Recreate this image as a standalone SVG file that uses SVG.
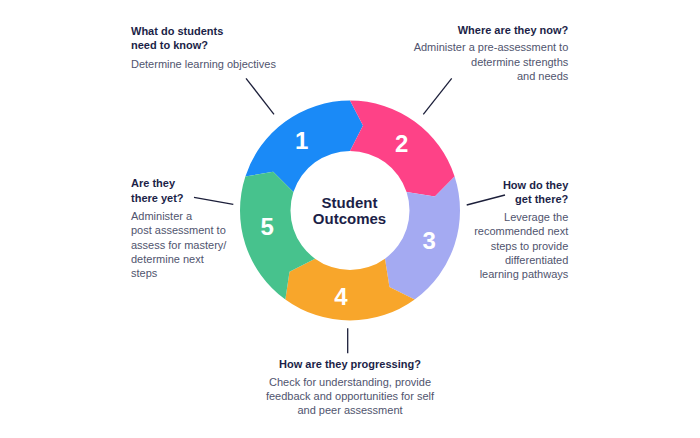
<svg xmlns="http://www.w3.org/2000/svg" width="700" height="438" viewBox="0 0 700 438">
<style>
.t{font-family:"Liberation Sans",Arial,sans-serif;font-size:11px;font-weight:bold;fill:#1c1f48}
.b{font-family:"Liberation Sans",Arial,sans-serif;font-size:11px;fill:#50546e}
.n{font-family:"Liberation Sans",Arial,sans-serif;font-size:24px;font-weight:bold;fill:#ffffff;text-anchor:middle}
.c{font-family:"Liberation Sans",Arial,sans-serif;font-size:15px;font-weight:bold;fill:#1c1f48;text-anchor:middle}
.ln{stroke:#1c1f3a;stroke-width:1.3;fill:none}
</style>
<rect width="700" height="438" fill="#ffffff"/>
<g id="connectors">
<line class="ln" x1="246" y1="78.3" x2="274" y2="114.3"/>
<line class="ln" x1="451.7" y1="78.3" x2="423.3" y2="114.3"/>
<line class="ln" x1="194" y1="197.3" x2="233.3" y2="204.3"/>
<line class="ln" x1="505" y1="195" x2="466.7" y2="205"/>
<line class="ln" x1="347.7" y1="328.3" x2="347.7" y2="353.3"/>
</g>
<g id="node1">
<path fill="#1a8af7" d="M245.38,176.51 A110,110 0 0 1 350,100.5 L363.01,125.49 L350,151 A59.5,59.5 0 0 0 293.41,192.11 L273.17,171.86 Z"/>
<text class="n" x="301.7" y="148.6">1</text>
</g>
<g id="node2">
<path fill="#fe4287" d="M350,100.5 A110,110 0 0 1 454.62,176.51 L434.87,196.6 L406.59,192.11 A59.5,59.5 0 0 0 350,151 L363.01,125.49 Z"/>
<text class="n" x="401.7" y="152">2</text>
</g>
<g id="node3">
<path fill="#a4aaf2" d="M454.62,176.51 A110,110 0 0 1 414.66,299.49 L389.44,286.92 L384.97,258.64 A59.5,59.5 0 0 0 406.59,192.11 L434.87,196.6 Z"/>
<text class="n" x="429.3" y="248.6">3</text>
</g>
<g id="node4">
<path fill="#f8a62b" d="M414.66,299.49 A110,110 0 0 1 285.34,299.49 L289.51,271.63 L315.03,258.64 A59.5,59.5 0 0 0 384.97,258.64 L389.44,286.92 Z"/>
<text class="n" x="341" y="305.3">4</text>
</g>
<g id="node5">
<path fill="#47c28d" d="M285.34,299.49 A110,110 0 0 1 245.38,176.51 L273.17,171.86 L293.41,192.11 A59.5,59.5 0 0 0 315.03,258.64 L289.51,271.63 Z"/>
<text class="n" x="267.3" y="235.3">5</text>
</g>
<g id="center">
<text class="c" x="349.5" y="207.5">Student</text>
<text class="c" x="349.5" y="223.5">Outcomes</text>
</g>
<g id="label1">
<text class="t" x="131" y="35">What do students</text>
<text class="t" x="131" y="49">need to know?</text>
<text class="b" x="131" y="67.5">Determine learning objectives</text>
</g>
<g id="label2" text-anchor="end">
<text class="t" x="568.3" y="33.5">Where are they now?</text>
<text class="b" x="568.3" y="51">Administer a pre-assessment to</text>
<text class="b" x="568.3" y="65.5">determine strengths</text>
<text class="b" x="568.3" y="80">and needs</text>
</g>
<g id="label3" text-anchor="end">
<text class="t" x="568.3" y="189">How do they</text>
<text class="t" x="568.3" y="203.3">get there?</text>
<text class="b" x="568.3" y="221">Leverage the</text>
<text class="b" x="568.3" y="235.3">recommended next</text>
<text class="b" x="568.3" y="249.7">steps to provide</text>
<text class="b" x="568.3" y="264">differentiated</text>
<text class="b" x="568.3" y="278.3">learning pathways</text>
</g>
<g id="label4" text-anchor="middle">
<text class="t" x="350" y="367.7">How are they progressing?</text>
<text class="b" x="350" y="385.7">Check for understanding, provide</text>
<text class="b" x="350" y="400">feedback and opportunities for self</text>
<text class="b" x="350" y="414.3">and peer assessment</text>
</g>
<g id="label5">
<text class="t" x="131" y="187.3">Are they</text>
<text class="t" x="131" y="201.7">there yet?</text>
<text class="b" x="131" y="220">Administer a</text>
<text class="b" x="131" y="234.3">post assessment to</text>
<text class="b" x="131" y="248.7">assess for mastery/</text>
<text class="b" x="131" y="263">determine next</text>
<text class="b" x="131" y="277.3">steps</text>
</g>
</svg>
